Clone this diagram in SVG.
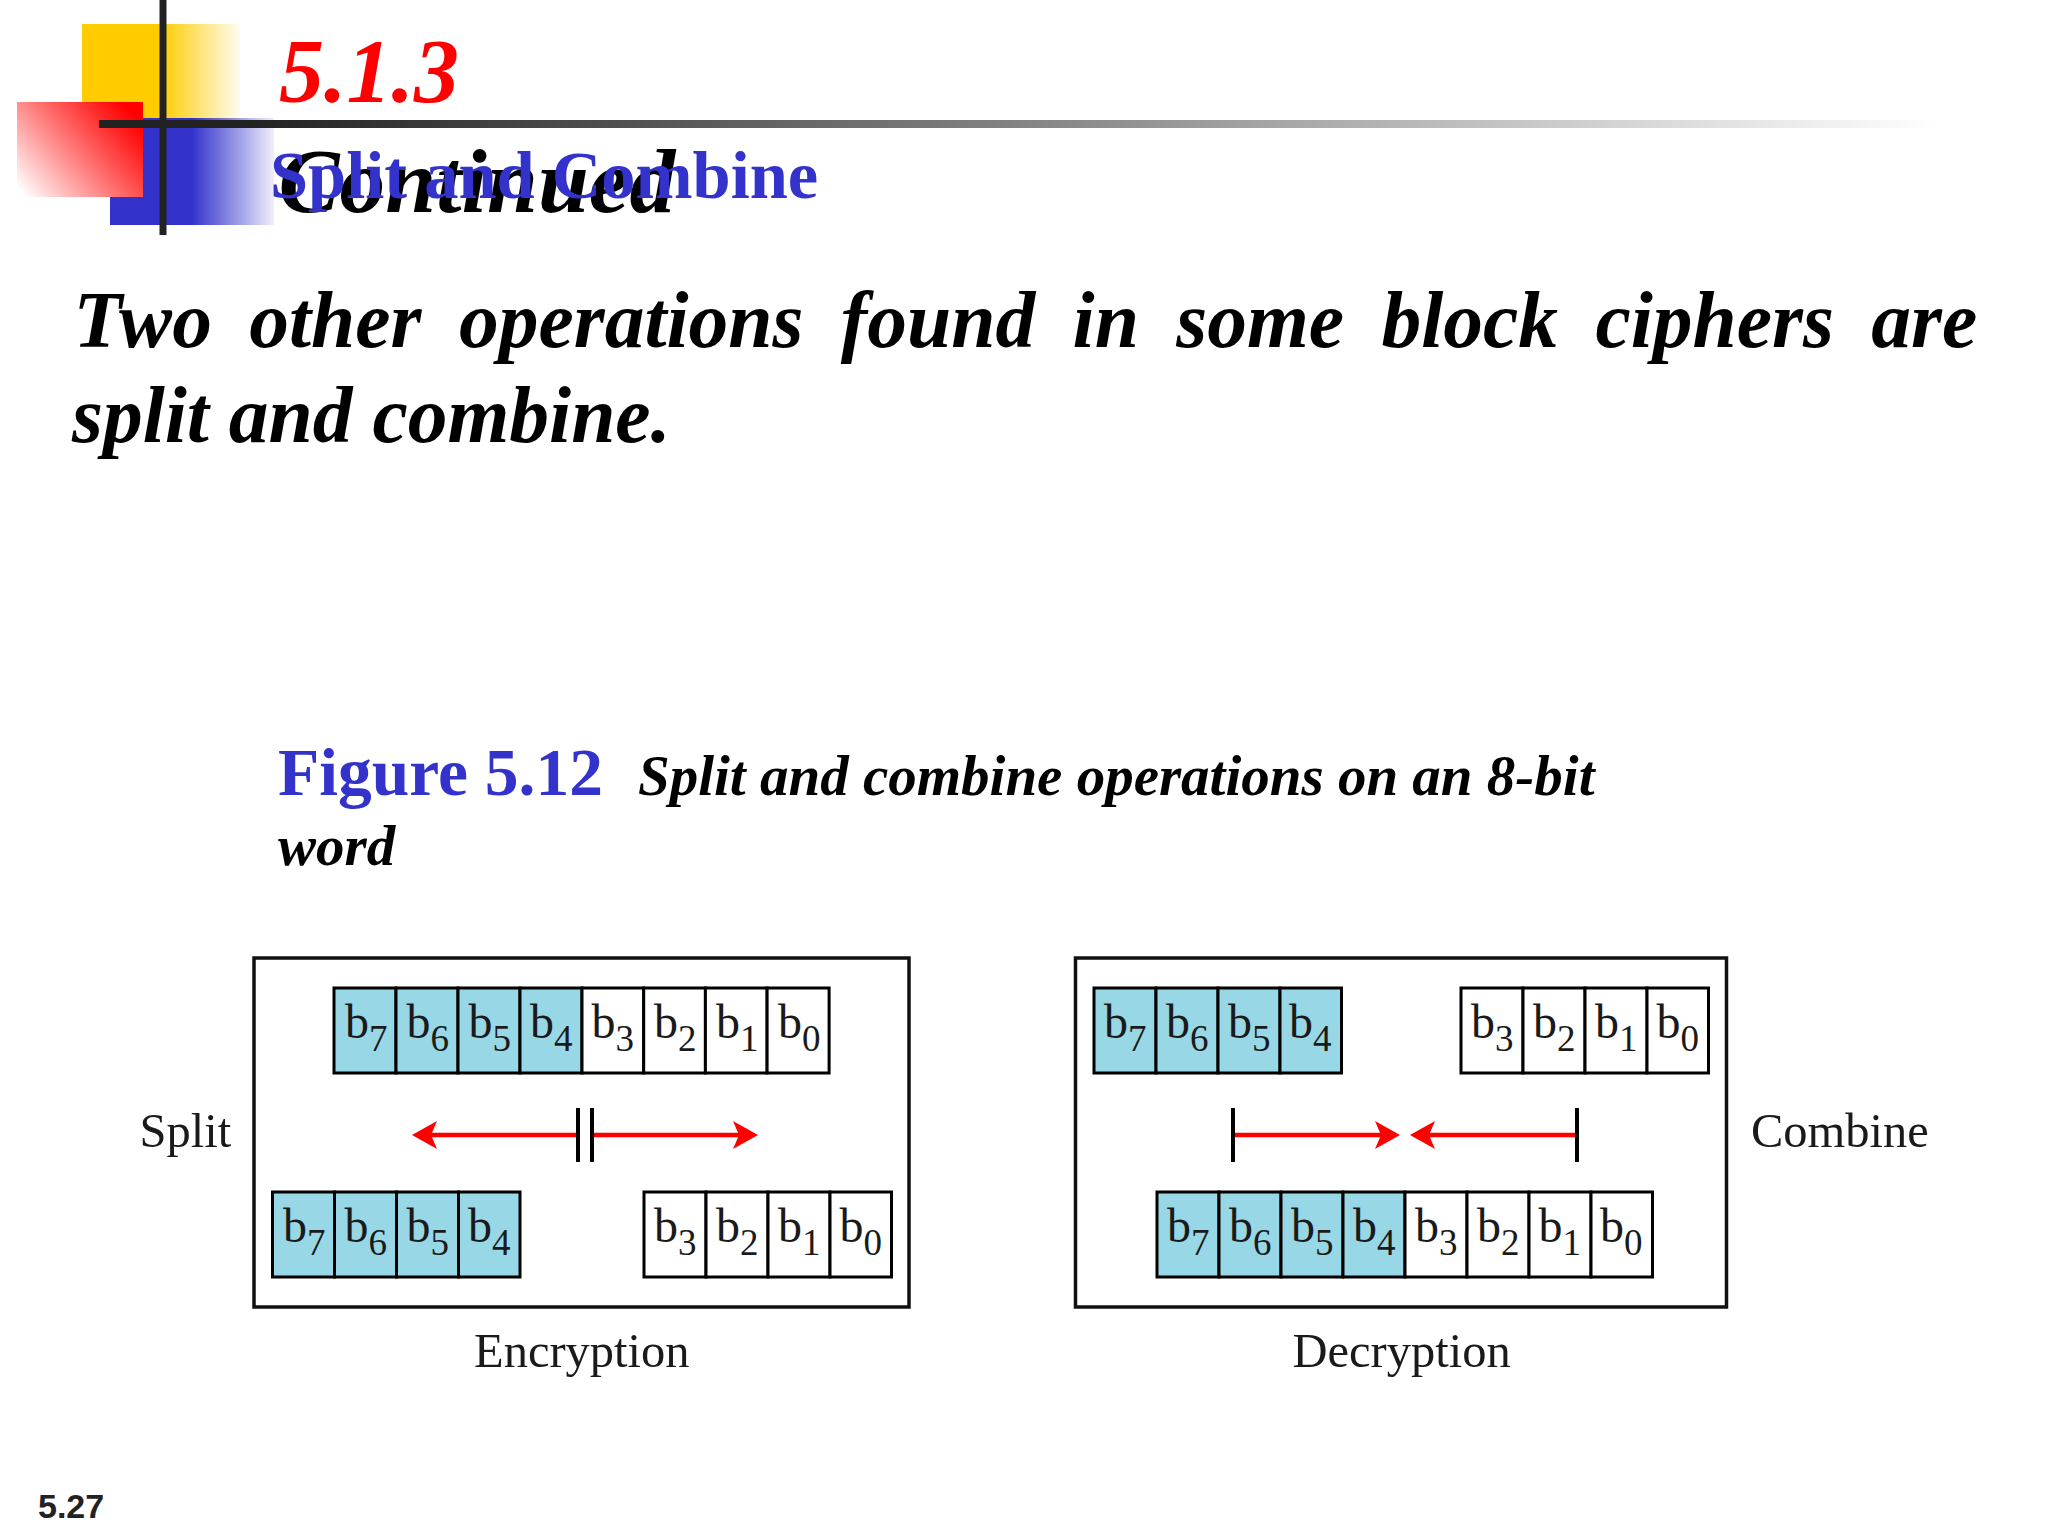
<svg xmlns="http://www.w3.org/2000/svg" xmlns:xlink="http://www.w3.org/1999/xlink" width="2048" height="1536" viewBox="0 0 2048 1536">
<style>
text{font-family:"Liberation Serif","Times New Roman",serif}
.bi{font-weight:bold;font-style:italic;fill:#000}
.blue{font-weight:bold;fill:#3333cc}
.lab{font-size:48.500px;fill:#1a1a1a}
.b{font-size:48px;fill:#1a1a1a}
.s{font-size:37px}
.cell{stroke:#000;stroke-width:3}
.c{fill:#98d7e6}
.w{fill:#fff}
.bx{fill:none;stroke:#111;stroke-width:3.500}
.ar{stroke:#ff0000;stroke-width:4.500;fill:none}
.h{fill:#ff0000}
.bar{stroke:#000;stroke-width:4}
</style>
<defs>
<linearGradient id="gy" x1="0" x2="1" y1="0" y2="0"><stop offset="0.5" stop-color="#ffcc00"/><stop offset="1" stop-color="#ffcc00" stop-opacity="0.05"/></linearGradient>
<linearGradient id="gr" x1="1" x2="0" y1="0.25" y2="0.9"><stop offset="0" stop-color="#ff0000"/><stop offset="0.1" stop-color="#ff1515"/><stop offset="1" stop-color="#ff0000" stop-opacity="0"/></linearGradient>
<linearGradient id="gb" x1="0" x2="1" y1="0" y2="0"><stop offset="0.5" stop-color="#3333cc"/><stop offset="1" stop-color="#3333cc" stop-opacity="0.08"/></linearGradient>
<linearGradient id="gl" x1="0" x2="1" y1="0" y2="0"><stop offset="0.08" stop-color="#222"/><stop offset="0.45" stop-color="#777"/><stop offset="1" stop-color="#fff"/></linearGradient>
<path id="hr" class="h" d="M0 0L-25 -14L-19 0L-25 14Z"/>
<path id="hl" class="h" d="M0 0L25 -14L19 0L25 14Z"/>
</defs>

<g id="logo">
<rect x="82" y="24" width="158" height="102" fill="url(#gy)"/>
<rect x="110" y="118" width="164" height="107" fill="url(#gb)"/>
<rect x="17" y="102" width="126" height="95" fill="#fff"/>
<rect x="17" y="102" width="126" height="95" fill="url(#gr)"/>
<rect x="99" y="120" width="1841" height="8" fill="url(#gl)"/>
<rect x="159.500" y="0" width="7" height="235" fill="#222"/>
</g>

<g id="titles">
<text class="bi" x="279" y="101.500" font-size="90" style="fill:#ff0000">5.1.3</text>
<text class="bi" x="278.500" y="212" font-size="91.500">Continued</text>
<text class="blue" x="270" y="198" font-size="68.500">Split and Combine</text>
</g>

<g id="body">
<text class="bi" x="73.500" y="347" font-size="79.500" word-spacing="17.500">Two other operations found in some block ciphers are</text>
<text class="bi" x="72" y="442" font-size="79.500">split and combine.</text>
</g>

<g id="caption">
<text class="blue" x="278" y="795" font-size="67.500">Figure 5.12</text>
<text class="bi" x="638" y="795" font-size="57">Split and combine operations on an 8-bit</text>
<text class="bi" x="278" y="865" font-size="57">word</text>
</g>

<g id="encryption">
<rect class="bx" x="254" y="958" width="655" height="349"/>
<text class="lab" x="139.500" y="1147">Split</text>
<text class="lab" x="474" y="1367">Encryption</text>
<g id="enc-top">
<rect class="cell c" x="334" y="988" width="62" height="85"/><rect class="cell c" x="396" y="988" width="62" height="85"/><rect class="cell c" x="458" y="988" width="62" height="85"/><rect class="cell c" x="520" y="988" width="62" height="85"/><rect class="cell w" x="582" y="988" width="61.700" height="85"/><rect class="cell w" x="643.700" y="988" width="61.700" height="85"/><rect class="cell w" x="705.400" y="988" width="61.700" height="85"/><rect class="cell w" x="767.100" y="988" width="62" height="85"/>
<text class="b" x="345" y="1038">b<tspan class="s" dy="13">7</tspan></text><text class="b" x="406.500" y="1038">b<tspan class="s" dy="13">6</tspan></text><text class="b" x="468.500" y="1038">b<tspan class="s" dy="13">5</tspan></text><text class="b" x="530" y="1038">b<tspan class="s" dy="13">4</tspan></text><text class="b" x="591.500" y="1038">b<tspan class="s" dy="13">3</tspan></text><text class="b" x="654" y="1038">b<tspan class="s" dy="13">2</tspan></text><text class="b" x="716" y="1038">b<tspan class="s" dy="13">1</tspan></text><text class="b" x="778" y="1038">b<tspan class="s" dy="13">0</tspan></text>
</g>
<g id="enc-left">
<rect class="cell c" x="272.500" y="1192" width="62" height="85"/><rect class="cell c" x="334.500" y="1192" width="62" height="85"/><rect class="cell c" x="396.500" y="1192" width="62" height="85"/><rect class="cell c" x="458.500" y="1192" width="61.500" height="85"/>
<text class="b" x="283" y="1242">b<tspan class="s" dy="13">7</tspan></text><text class="b" x="344.500" y="1242">b<tspan class="s" dy="13">6</tspan></text><text class="b" x="406.500" y="1242">b<tspan class="s" dy="13">5</tspan></text><text class="b" x="468" y="1242">b<tspan class="s" dy="13">4</tspan></text>
</g>
<g id="enc-right">
<rect class="cell w" x="644" y="1192" width="62" height="85"/><rect class="cell w" x="706" y="1192" width="62" height="85"/><rect class="cell w" x="768" y="1192" width="62" height="85"/><rect class="cell w" x="830" y="1192" width="61.500" height="85"/>
<text class="b" x="654" y="1242">b<tspan class="s" dy="13">3</tspan></text><text class="b" x="716" y="1242">b<tspan class="s" dy="13">2</tspan></text><text class="b" x="778" y="1242">b<tspan class="s" dy="13">1</tspan></text><text class="b" x="839.500" y="1242">b<tspan class="s" dy="13">0</tspan></text>
</g>
</g>

<g id="decryption">
<rect class="bx" x="1075.500" y="958" width="651" height="349"/>
<text class="lab" x="1751" y="1147">Combine</text>
<text class="lab" x="1292.500" y="1367">Decryption</text>
<g id="dec-left">
<rect class="cell c" x="1094" y="988" width="62" height="85"/><rect class="cell c" x="1156" y="988" width="62" height="85"/><rect class="cell c" x="1218" y="988" width="62" height="85"/><rect class="cell c" x="1280" y="988" width="61.500" height="85"/>
<text class="b" x="1104" y="1038">b<tspan class="s" dy="13">7</tspan></text><text class="b" x="1166" y="1038">b<tspan class="s" dy="13">6</tspan></text><text class="b" x="1228" y="1038">b<tspan class="s" dy="13">5</tspan></text><text class="b" x="1289" y="1038">b<tspan class="s" dy="13">4</tspan></text>
</g>
<g id="dec-right">
<rect class="cell w" x="1461" y="988" width="62" height="85"/><rect class="cell w" x="1523" y="988" width="62" height="85"/><rect class="cell w" x="1585" y="988" width="62" height="85"/><rect class="cell w" x="1647" y="988" width="61.500" height="85"/>
<text class="b" x="1471" y="1038">b<tspan class="s" dy="13">3</tspan></text><text class="b" x="1533" y="1038">b<tspan class="s" dy="13">2</tspan></text><text class="b" x="1595" y="1038">b<tspan class="s" dy="13">1</tspan></text><text class="b" x="1656.500" y="1038">b<tspan class="s" dy="13">0</tspan></text>
</g>
<g id="dec-bottom">
<rect class="cell c" x="1157" y="1192" width="62" height="85"/><rect class="cell c" x="1219" y="1192" width="62" height="85"/><rect class="cell c" x="1281" y="1192" width="62" height="85"/><rect class="cell c" x="1343" y="1192" width="62" height="85"/><rect class="cell w" x="1405" y="1192" width="62" height="85"/><rect class="cell w" x="1467" y="1192" width="62" height="85"/><rect class="cell w" x="1529" y="1192" width="62" height="85"/><rect class="cell w" x="1591" y="1192" width="61.500" height="85"/>
<text class="b" x="1167" y="1242">b<tspan class="s" dy="13">7</tspan></text><text class="b" x="1229" y="1242">b<tspan class="s" dy="13">6</tspan></text><text class="b" x="1291" y="1242">b<tspan class="s" dy="13">5</tspan></text><text class="b" x="1353" y="1242">b<tspan class="s" dy="13">4</tspan></text><text class="b" x="1415" y="1242">b<tspan class="s" dy="13">3</tspan></text><text class="b" x="1477" y="1242">b<tspan class="s" dy="13">2</tspan></text><text class="b" x="1538.500" y="1242">b<tspan class="s" dy="13">1</tspan></text><text class="b" x="1600" y="1242">b<tspan class="s" dy="13">0</tspan></text>
</g>
</g>

<g id="connectors">
<line class="ar" x1="578" y1="1135" x2="430" y2="1135"/><use xlink:href="#hl" href="#hl" x="412" y="1135"/>
<line class="ar" x1="592" y1="1135" x2="740" y2="1135"/><use xlink:href="#hr" href="#hr" x="758" y="1135"/>
<line class="bar" x1="578" y1="1108" x2="578" y2="1162"/><line class="bar" x1="592" y1="1108" x2="592" y2="1162"/>
<line class="ar" x1="1233" y1="1135" x2="1382" y2="1135"/><use xlink:href="#hr" href="#hr" x="1400" y="1135"/>
<line class="ar" x1="1577" y1="1135" x2="1428" y2="1135"/><use xlink:href="#hl" href="#hl" x="1410" y="1135"/>
<line class="bar" x1="1233" y1="1108" x2="1233" y2="1162"/><line class="bar" x1="1577" y1="1108" x2="1577" y2="1162"/>
</g>

<text id="page" x="38" y="1518" font-size="34" font-weight="bold" fill="#222" style="font-family:'Liberation Sans',Arial,sans-serif">5.27</text>
</svg>
